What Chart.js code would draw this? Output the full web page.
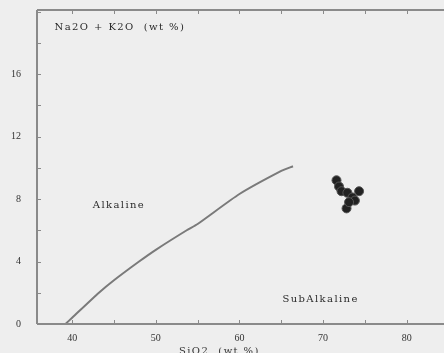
<!DOCTYPE html>
<html>
<head>
<meta charset="utf-8">
<script src="https://cdn.jsdelivr.net/npm/chart.js@4/dist/chart.umd.min.js"></script>
<style>
  html, body { margin: 0; padding: 0; background: #eeeeee; overflow: hidden; }
  #wrap { width: 470px; height: 357px; position: relative; top: -4px; }
  canvas { filter: blur(0.5px); }
</style>
</head>
<body>
<div id="wrap"><canvas id="tas"></canvas></div>
<script>
// Irvine & Baragar alkaline / subalkaline divide
const divideSiO2 = [39.2, 40, 43.2, 45, 48, 50, 53.7, 55, 60, 65, 66.4];
const divideAlk = [0, 0.4, 2.0, 2.8, 4.0, 4.75, 6.0, 6.4, 8.32, 9.8, 10.1];

// samples
const sampleSiO2 = [71.6, 71.9, 72.2, 72.9, 73.5, 73.8, 74.3, 72.8, 73.1];
const sampleAlk = [9.2, 8.8, 8.5, 8.4, 8.1, 7.9, 8.5, 7.4, 7.8];

const xTicks = [40, 45, 50, 55, 60, 65, 70, 75, 80, 85];
const yTicks = [0, 2, 4, 6, 8, 10, 12, 14, 16, 18, 20];
const xLabelTicks = [40, 50, 60, 70, 80];
const yLabelTicks = [0, 4, 8, 12, 16];

const fieldLabels = [
  { text: 'Alkaline', x: 45.6, y: 7.6, align: 'center' },
  { text: 'SubAlkaline', x: 69.7, y: 1.6, align: 'center' },
  { text: 'Na2O + K2O  (wt %)', x: 37.9, y: 19.0, align: 'left' },
];
const xTitle = 'SiO2  (wt %)';

const axisGrey = '#8a8a8a';

const frame = {
  id: 'frame',
  afterDraw(chart) {
    const c = chart.ctx, a = chart.chartArea;
    const sx = chart.scales.x, sy = chart.scales.y;
    c.save();
    c.strokeStyle = axisGrey;
    c.lineWidth = 2;
    c.beginPath();
    c.moveTo(a.left, a.top); c.lineTo(a.right, a.top);
    c.moveTo(a.left, a.top); c.lineTo(a.left, a.bottom);
    c.moveTo(a.left, a.bottom); c.lineTo(a.right, a.bottom);
    c.stroke();
    // inward ticks
    c.lineWidth = 1;
    c.beginPath();
    xTicks.forEach(v => {
      const px = Math.round(sx.getPixelForValue(v)) + 0.5;
      c.moveTo(px, a.bottom); c.lineTo(px, a.bottom - 4);
      c.moveTo(px, a.top); c.lineTo(px, a.top + 4);
    });
    yTicks.forEach(v => {
      const py = Math.round(sy.getPixelForValue(v)) + 0.5;
      c.moveTo(a.left, py); c.lineTo(a.left + 4, py);
    });
    c.stroke();
    // field names
    c.fillStyle = '#2a2a2a';
    c.font = '10px "DejaVu Serif", serif';
    c.letterSpacing = '1.4px';
    c.textBaseline = 'middle';
    fieldLabels.forEach(l => {
      c.textAlign = l.align;
      c.fillText(l.text, sx.getPixelForValue(l.x), sy.getPixelForValue(l.y));
    });
    // x axis title, partly below the photo edge
    c.fillStyle = '#333';
    c.textAlign = 'center';
    c.fillText(xTitle, sx.getPixelForValue(57.6), a.bottom + 27);
    c.restore();
  }
};

new Chart(document.getElementById('tas'), {
  type: 'scatter',
  data: {
    datasets: [
      {
        label: 'divide',
        type: 'line',
        data: divideSiO2.map((x, i) => ({ x: x, y: divideAlk[i] })),
        borderColor: '#7a7a7a',
        borderWidth: 2,
        pointRadius: 0,
        tension: 0.2,
        fill: false,
      },
      {
        label: 'samples',
        data: sampleSiO2.map((x, i) => ({ x: x, y: sampleAlk[i] })),
        backgroundColor: '#222',
        borderColor: '#555',
        borderWidth: 1,
        pointRadius: 4.5,
      },
    ],
  },
  options: {
    responsive: true,
    maintainAspectRatio: false,
    animation: false,
    layout: { padding: { left: 3, top: -6, right: 0, bottom: 9 } },
    plugins: { legend: { display: false }, tooltip: { enabled: false } },
    scales: {
      x: {
        type: 'linear',
        min: 35.8,
        max: 86.9,
        afterBuildTicks: s => { s.ticks = xLabelTicks.map(v => ({ value: v })); },
        grid: { display: false },
        border: { display: false },
        ticks: {
          color: '#333',
          font: { family: '"Liberation Serif", serif', size: 10 },
          padding: 0,
        },
      },
      y: {
        type: 'linear',
        min: 0,
        max: 20.1,
        afterBuildTicks: s => { s.ticks = yLabelTicks.map(v => ({ value: v })); },
        grid: { display: false },
        border: { display: false },
        ticks: {
          color: '#333',
          font: { family: '"Liberation Serif", serif', size: 10 },
          padding: 8,
        },
      },
    },
  },
  plugins: [frame],
});
</script>
</body>
</html>
